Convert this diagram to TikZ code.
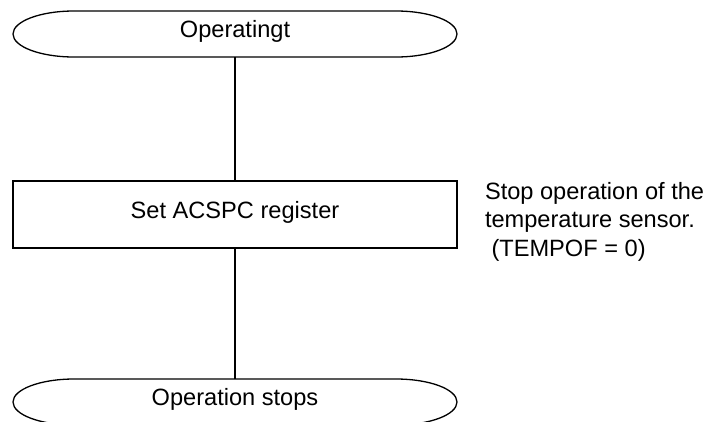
\documentclass[tikz,border=0pt]{standalone}
\usepackage{fontspec}
\setmainfont{Liberation Sans}
\newcommand\termoutline[1]{%
  \draw[outline] ([xshift=61pt]#1.north west) -- ([xshift=-61pt]#1.north east)
    arc[start angle=90, end angle=-90, x radius=61pt, y radius=23pt]
    -- ([xshift=61pt]#1.south west)
    arc[start angle=270, end angle=90, x radius=61pt, y radius=23pt] -- cycle;}
\begin{document}
\begin{tikzpicture}[x=1pt, y=-1pt,
    every node/.style={font=\fontsize{23.6}{28.5}\selectfont, inner sep=0pt, outer sep=0pt},
    outline/.style={draw=black, line width=1.3pt},
    terminal/.style={minimum width=444pt, minimum height=46pt, text height=0.72em, text depth=0pt},
    process/.style={outline, minimum width=444pt, minimum height=67pt, text height=0.72em, text depth=0pt},
    flow/.style={draw=black, line width=1.3pt}]
  \useasboundingbox (0,0) rectangle (708,421);
  \clip (0,0) rectangle (708,421);

  \node[terminal] (start) at (235,34) {Operatingt};
  \termoutline{start}

  \node[process] (acspc) at (235,214.5) {Set ACSPC register};

  \node[terminal] (stop) at (235,402) {Operation stops};
  \termoutline{stop}

  \node[anchor=north west, align=left] (note) at (485,182)
    {Stop operation of the\\temperature sensor.\\\hspace*{0.278em}(TEMPOF = 0)};

  \draw[flow] (start.south) -- (acspc.north);
  \draw[flow] (acspc.south) -- (stop.north);
\end{tikzpicture}
\end{document}
